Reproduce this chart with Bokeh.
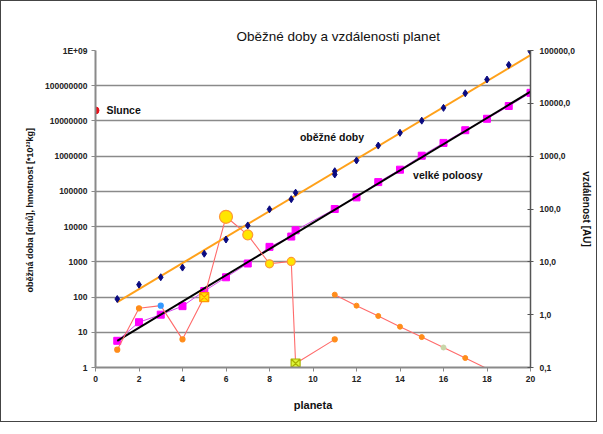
from bokeh.plotting import figure
from bokeh.models import Range1d, LogScale, LogAxis, FixedTicker, ColumnDataSource, Label
from bokeh.embed import file_html
from bokeh.resources import INLINE

# ---------------- data ----------------
# orbital periods [days]
period_x = [1, 2, 3, 4, 5, 6, 7, 8, 9, 9.2, 11, 11, 12, 13, 14, 15, 16, 17, 18, 19, 20]
period_days = [88, 225, 365, 687, 1700, 4300, 10800, 31000, 60000, 92000, 302000, 374000,
               755000, 2.0e6, 4.6e6, 1.02e7, 2.35e7, 6.1e7, 1.5e8, 3.9e8, 9.3e8]
period_trend_x = [1, 20]
period_trend_days = [72, 7.4e8]

# semi-major axes [AU] (right axis)
axis_x = [1, 2, 3, 4, 5, 6, 7, 8, 9, 9.2, 11, 12, 13, 14, 15, 16, 17, 18, 19, 20]
axis_au = [0.32, 0.72, 1.0, 1.45, 2.8, 5.1, 9.3, 19.2, 30.1, 39.5,
           100, 166, 323, 555, 1020, 1780, 3100, 5100, 8900, 15800]
axis_trend_x = [1, 20]
axis_trend_au = [0.32, 16600]

# masses [10^23 kg]
mass_x = [1, 2, 3, 4, 5, 6, 7, 8, 9, 9.2, 11]
mass_val = [3.2, 48, 57, 6.3, 100, 19000, 5840, 880, 1030, 1.3, 6.3]
mass2_x = [11, 12, 13, 14, 15, 16, 17, 18]
mass2_val = [117, 57, 29, 14.4, 7.3, 3.7, 1.86, 0.93]

sun_x = [0]
sun_mass = [1.99e7]

left_ticks = [1, 10, 100, 1000, 1e4, 1e5, 1e6, 1e7, 1e8, 1e9]
left_labels = ["1", "10", "100", "1000", "10000", "100000", "1000000", "10000000", "100000000", "1E+09"]
right_ticks = [0.1, 1, 10, 100, 1000, 1e4, 1e5]
right_labels = ["0,1", "1,0", "10,0", "100,0", "1000,0", "10000,0", "100000,0"]
x_ticks = [0, 2, 4, 6, 8, 10, 12, 14, 16, 18, 20]

# ---------------- styles ----------------
mass_marker = ["circle", "circle", "circle", "circle", "square_x", "circle", "circle", "circle", "circle", "square_x", "circle"]
mass_size = [5, 5, 5, 5, 9, 13, 10, 8, 8, 9, 5]
mass_fill = ["#FF8C1A", "#FF8C1A", "#3399FF", "#FF8C1A", "#FFE600", "#FFE600", "#FFE600", "#FFE600", "#FFE600", "#DDF53A", "#FF8C1A"]
mass_line = ["#FF8C1A", "#FF8C1A", "#3399FF", "#FF8C1A", "#FF9900", "#FF9933", "#FF9933", "#FF9933", "#FF9933", "#A8B000", "#FF8C1A"]
mass2_fill = ["#FF8C1A", "#FF8C1A", "#FF8C1A", "#FF8C1A", "#FF8C1A", "#C9D6A8", "#FF8C1A", "#FF8C1A"]

FONT = "Liberation Sans"

p = figure(width=597, height=422, x_range=Range1d(0, 20), y_range=Range1d(1, 1e9),
           y_axis_type="log", output_backend="svg", toolbar_location=None,
           min_border_left=94, min_border_right=68, min_border_top=49, min_border_bottom=56)
p.styles = {"border": "1px solid #444"}
p.outline_line_color = None
p.background_fill_color = "white"
p.border_fill_color = "white"

p.title.text = "Oběžné doby a vzdálenosti planet"
p.title.align = "left"
p.title.offset = 141
p.title.vertical_align = "top"
p.title.text_font = FONT
p.title.text_font_size = "13.5px"
p.title.text_font_style = "normal"
p.title.text_color = "#111"

p.extra_y_ranges = {"au": Range1d(0.1, 1e5)}
p.extra_y_scales = {"au": LogScale()}

lt = FixedTicker(ticks=left_ticks)
left = p.left[0]
left.ticker = lt
left.major_label_overrides = {t: s for t, s in zip(left_ticks, left_labels)}
left.axis_label = "oběžná doba  [dnů], hmotnost [*10²³kg]"
p.ygrid[0].ticker = lt
p.ygrid.grid_line_color = "#8a8a8a"
p.ygrid.grid_line_width = 1.5
p.ygrid.minor_grid_line_color = None
p.xgrid.visible = False

right = LogAxis(y_range_name="au", ticker=FixedTicker(ticks=right_ticks),
                major_label_overrides={t: s for t, s in zip(right_ticks, right_labels)},
                axis_label="vzdálenost [AU]")
p.add_layout(right, "right")

bottom = p.below[0]
bottom.ticker = FixedTicker(ticks=x_ticks)
bottom.axis_label = "planeta"

for ax in [left, right, bottom]:
    ax.major_label_text_font = FONT
    ax.major_label_text_font_size = "8.5px"
    ax.major_label_text_font_style = "bold"
    ax.major_label_text_color = "#222"
    ax.axis_label_text_font = FONT
    ax.axis_label_text_font_size = "9px"
    ax.axis_label_text_font_style = "bold"
    ax.axis_label_text_color = "#111"
    ax.minor_tick_line_color = None
    ax.axis_line_color = "#8a8a8a"
    ax.axis_line_width = 2
    ax.major_tick_line_color = "#8a8a8a"
    ax.major_tick_in = 0
    ax.major_tick_out = 4
    ax.major_label_standoff = 4
right.axis_line_color = "#555"
right.axis_line_width = 1.5
right.major_tick_line_color = "#555"
right.major_tick_in = 3
right.major_tick_out = 3
right.major_label_standoff = 6
right.axis_label_text_font_size = "10px"
bottom.axis_label_standoff = 14
bottom.axis_label_text_font_size = "11px"
left.axis_label_standoff = 7
right.axis_label_standoff = 3

# ---- semi-major axes (right axis) ----
p.line(axis_x, axis_au, y_range_name="au", line_color="#D54BEA", line_width=1)
p.scatter(axis_x, axis_au, y_range_name="au", marker="square", size=7,
          fill_color="#FF00FF", line_color="#FF00FF")
p.line(axis_trend_x, axis_trend_au, y_range_name="au", line_color="black", line_width=2)

# ---- masses ----
p.line(mass_x, mass_val, line_color="#FF6B6B", line_width=1.1)
p.line(mass2_x, mass2_val, line_color="#FF6B6B", line_width=1.1)
msrc = ColumnDataSource(dict(x=mass_x, y=mass_val, m=mass_marker, s=mass_size, f=mass_fill, l=mass_line))
p.scatter("x", "y", source=msrc, marker="m", size="s", fill_color="f", line_color="l", line_width=1.2)
vis = [i for i, v in enumerate(mass2_val) if v >= 1]
p.scatter([mass2_x[i] for i in vis], [mass2_val[i] for i in vis], marker="circle", size=5,
          fill_color=[mass2_fill[i] for i in vis], line_color=[mass2_fill[i] for i in vis])

# ---- orbital periods ----
p.line(period_trend_x, period_trend_days, line_color="#FFA11A", line_width=2)
p.scatter(period_x, period_days, marker="diamond", size=7, fill_color="#0A0A80", line_color="#0A0A80")

# ---- Sun ----
p.scatter(sun_x, sun_mass, marker="circle", size=7, fill_color="#E8101A", line_color="#E8101A")

for txt, x, y in [("Slunce", 0.5, 2.0e7), ("oběžné doby", 9.4, 3.5e6), ("velké poloosy", 14.6, 2.9e5)]:
    p.add_layout(Label(x=x, y=y, text=txt, text_baseline="middle", text_font=FONT,
                       text_font_size="10.5px", text_font_style="bold", text_color="#111"))

open("out.html", "w").write(file_html(p, INLINE))
